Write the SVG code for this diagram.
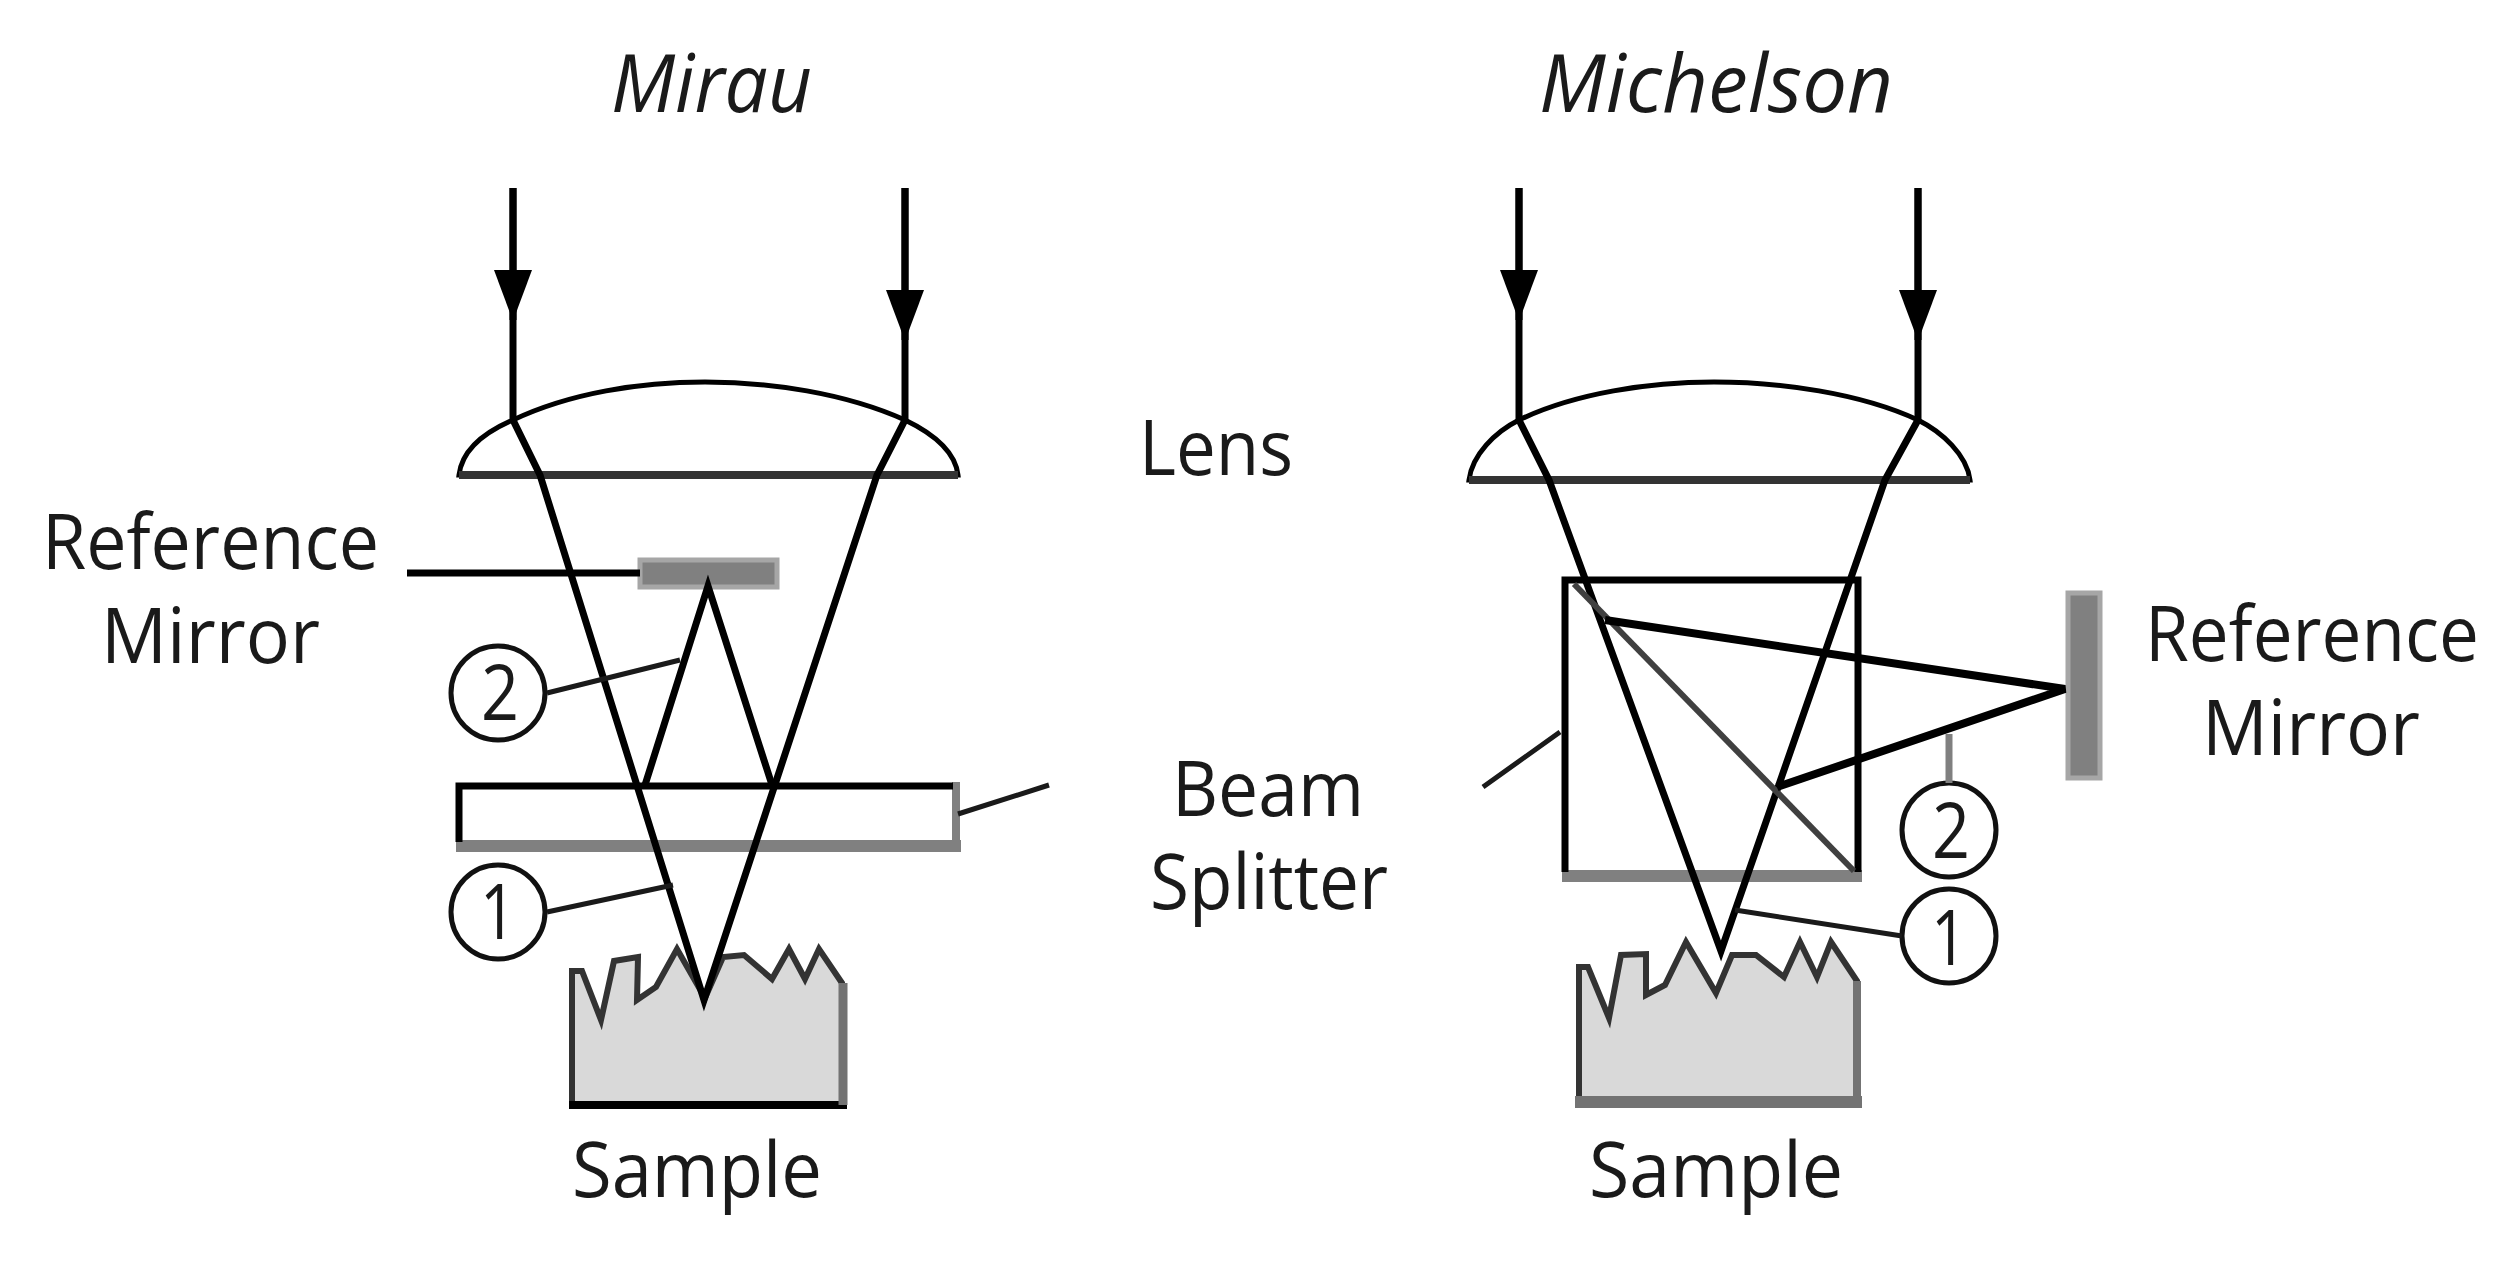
<svg xmlns="http://www.w3.org/2000/svg" width="2516" height="1261" viewBox="0 0 2516 1261">
<defs>
<marker id="ah" markerUnits="userSpaceOnUse" markerWidth="40" markerHeight="52" refX="20" refY="50" orient="0" viewBox="0 0 40 52"><path d="M1 0H39L20 51Z" fill="#000"/></marker>
</defs>
<style>
text{font-family:"Open Sans","Noto Sans","Liberation Sans",sans-serif;font-size:76px;fill:#1a1a1a}
.t{font-style:italic;font-size:80px}
.l{fill:none;stroke:#000;stroke-width:7}
.lead{fill:none;stroke:#1a1a1a;stroke-width:5}
.lens{fill:#fff;stroke:#000;stroke-width:5}
.flat{fill:none;stroke:#333;stroke-width:8}
.mir{fill:#808080;stroke:#a6a6a6;stroke-width:5}
.samp{fill:#d9d9d9;stroke:#333;stroke-width:6}
.c{fill:#fff;stroke:#111;stroke-width:5}
.gb{stroke:#808080;stroke-width:12}
.gr{stroke:#808080;stroke-width:8}
</style>
<rect width="2516" height="1261" fill="#fff"/>
<g id="mirau-title"><text class="t" x="611" y="112" textLength="201" lengthAdjust="spacingAndGlyphs">Mirau</text></g>
<g id="michelson-title"><text class="t" x="1539" y="112" textLength="354" lengthAdjust="spacingAndGlyphs">Michelson</text></g>
<g id="lens-label"><text x="1139" y="475" textLength="154" lengthAdjust="spacingAndGlyphs">Lens</text></g>
<g id="beam-label"><text x="1172" y="816" textLength="192" lengthAdjust="spacingAndGlyphs">Beam</text><text x="1150" y="909" textLength="238" lengthAdjust="spacingAndGlyphs">Splitter</text></g>

<g id="mirau-lens"><path class="lens" d="M459 475C462 450 485 432 513 420C570 393 640 382 705 382C770 382 845 393 905 420C930 432 955 450 958 475Z"/><path class="flat" d="M459 475H958"/></g>
<g id="mirau-mirror"><rect class="mir" x="640" y="560" width="137" height="27"/></g>
<g id="mirau-splitter"><rect x="459" y="785" width="496" height="60" fill="#fff"/><path class="gb" d="M456 846H961"/><path class="gr" d="M956 782V850"/><path class="l" d="M459 842V786H953"/></g>
<g id="mirau-sample"><path class="samp" d="M572 1105V971H582L601 1020L614 961L638 957L637 1000L656 987L677 949L705 998L723 957L744 955L772 979L789 949L805 979L819 949L842 983V1105Z"/><path d="M569 1105H847" stroke="#000" stroke-width="8"/><path d="M843 983V1105" stroke="#737373" stroke-width="9"/><text x="572" y="1197" textLength="250" lengthAdjust="spacingAndGlyphs">Sample</text></g>
<g id="mirau-ref-label"><text x="42" y="569" textLength="337" lengthAdjust="spacingAndGlyphs">Reference</text><text x="101" y="663" textLength="219" lengthAdjust="spacingAndGlyphs">Mirror</text></g>
<g id="mirau-c2"><circle class="c" cx="498" cy="693" r="47"/><text x="481" y="720" textLength="38" lengthAdjust="spacingAndGlyphs">2</text></g>
<g id="mirau-c1"><circle class="c" cx="498" cy="912" r="47"/><text x="480" y="939" textLength="36" lengthAdjust="spacingAndGlyphs">1</text></g>

<g id="michelson-lens"><path class="lens" d="M1469 480C1472 455 1495 432 1519 420C1575 393 1650 382 1714 382C1780 382 1860 393 1918 420C1942 432 1967 455 1970 480Z"/><path class="flat" d="M1469 480H1970"/></g>
<g id="michelson-mirror"><rect class="mir" x="2068" y="593" width="32" height="185"/></g>
<g id="michelson-splitter"><rect x="1565" y="580" width="293" height="295" fill="#fff"/><path class="gb" d="M1562 876H1862"/><path class="l" d="M1565 872V580H1858V872"/></g>
<g id="michelson-sample"><path class="samp" d="M1579 1100V967H1588L1609 1018L1621 955L1646 954V995L1665 985L1686 942L1716 993L1732 955L1756 955L1784 977L1800 942L1817 977L1831 942L1857 981V1100Z"/><path d="M1575 1102H1862" stroke="#737373" stroke-width="12"/><path d="M1857 981V1100" stroke="#737373" stroke-width="8"/><text x="1589" y="1197" textLength="254" lengthAdjust="spacingAndGlyphs">Sample</text></g>
<g id="michelson-ref-label"><text x="2145" y="661" textLength="334" lengthAdjust="spacingAndGlyphs">Reference</text><text x="2202" y="755" textLength="218" lengthAdjust="spacingAndGlyphs">Mirror</text></g>
<g id="michelson-c2"><circle class="c" cx="1949" cy="830" r="47"/><text x="1932" y="858" textLength="38" lengthAdjust="spacingAndGlyphs">2</text></g>
<g id="michelson-c1"><circle class="c" cx="1949" cy="936" r="47"/><text x="1931" y="965" textLength="36" lengthAdjust="spacingAndGlyphs">1</text></g>

<g id="connectors">
<path class="l" d="M513 188V420"/><path class="l" d="M513 188V320" marker-end="url(#ah)"/>
<path class="l" d="M905 188V420"/><path class="l" d="M905 188V340" marker-end="url(#ah)"/>
<path class="l" d="M513 420L540 475L704 1000L877 475L905 420"/>
<path class="l" d="M645 785L708 586L772 785"/>
<path class="l" d="M407 573H640"/>
<path class="lead" d="M547 693L680 660M547 912L673 885M958 814L1049 785"/>

<path class="l" d="M1519 188V420"/><path class="l" d="M1519 188V320" marker-end="url(#ah)"/>
<path class="l" d="M1918 188V420"/><path class="l" d="M1918 188V340" marker-end="url(#ah)"/>
<path class="l" d="M1519 420L1549 480L1721 951L1885 480L1918 420"/>
<path d="M1574 584L1854 871" fill="none" stroke="#404040" stroke-width="6"/>
<path d="M1605 620L2065 689L1777 787" fill="none" stroke="#000" stroke-width="8"/>
<path d="M1949 734V783" stroke="#808080" stroke-width="7"/>
<path class="lead" d="M1902 936L1735 910M1560 732L1483 787"/>
</g>
</svg>
